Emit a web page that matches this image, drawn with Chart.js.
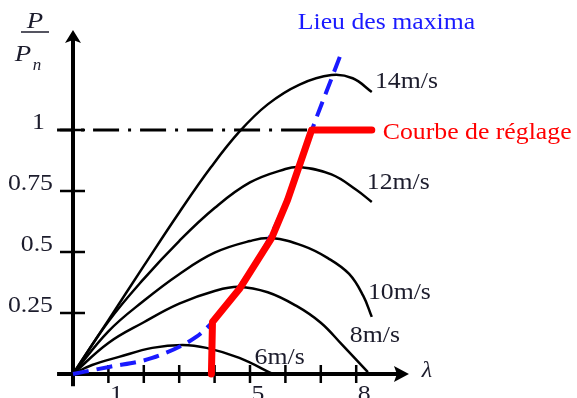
<!DOCTYPE html>
<html>
<head>
<meta charset="utf-8">
<script src="https://cdn.jsdelivr.net/npm/chart.js@4"></script>
<style>
  body { margin: 0; background: #fff; }
  canvas { display: block; }
</style>
</head>
<body>
<canvas id="cp" width="577" height="398"></canvas>
<script>
// power curves P/Pn versus tip speed ratio lambda, one per wind speed
const lam14 = [0, 1, 2, 3, 3.9, 4.7, 5.5, 6.4, 7.3, 7.9, 8.44];
const p14   = [0, 0.221, 0.443, 0.662, 0.848, 0.993, 1.105, 1.186, 1.225, 1.212, 1.156];
const lam12 = [0, 1, 2, 3, 4, 5, 6, 6.4, 7.3, 8, 8.44];
const p12   = [0, 0.215, 0.390, 0.545, 0.680, 0.785, 0.840, 0.848, 0.818, 0.755, 0.705];
const lam10 = [0, 1, 2, 3, 4, 5, 5.6, 6.5, 7.2, 7.8, 8.2, 8.44];
const p10   = [0, 0.175, 0.300, 0.409, 0.497, 0.545, 0.557, 0.525, 0.475, 0.41, 0.32, 0.234];
const lam8  = [0, 1, 2, 3, 4, 4.7, 5.5, 6.3, 7, 7.6, 8.33];
const p8    = [0, 0.127, 0.212, 0.288, 0.340, 0.357, 0.335, 0.28, 0.21, 0.12, 0.008];
const lam6  = [0, 0.54, 1.30, 2.24, 3.09, 3.77, 4.70, 5.64];
const p6    = [0, 0.037, 0.070, 0.107, 0.119, 0.107, 0.066, 0];

// locus of the maxima
const lamMax = [0, 1.02, 2.24, 3.48, 3.94, 4.70, 5.55, 6.40, 6.77, 7.34, 7.59];
const pMax   = [0, 0.029, 0.066, 0.152, 0.213, 0.357, 0.557, 0.848, 1.008, 1.225, 1.320];

// control curve
const lamReg = [3.91, 3.94, 4.70, 5.61, 6.06, 6.74, 8.44];
const pReg   = [0, 0.213, 0.348, 0.557, 0.713, 1.0, 1.0];

// nominal power line
const lamNom = [-0.45, 8.33];
const pNom   = [1, 1];

const speeds = ['6m/s', '8m/s', '10m/s', '12m/s', '14m/s'];
const xTicks = [1, 2, 3, 4, 5, 6, 7, 8];
const xTickLabels = ['1', '5', '8'];
const yTicks = [0.25, 0.5, 0.75, 1];
const yTickLabels = ['0.25', '0.5', '0.75', '1'];

// where the curve names sit (lambda, P)
const speedLabelAt = [[5.13, 0.066], [7.82, 0.156], [8.33, 0.332], [8.30, 0.783], [8.53, 1.197]];

const pts = (xs, ys) => xs.map((v, i) => ({ x: v, y: ys[i] }));

const curve = (xs, ys, name) => ({
  label: name,
  data: pts(xs, ys),
  borderColor: '#000',
  borderWidth: 2.5,
  pointRadius: 0,
  tension: 0.4,
  order: 3
});

const SERIF = '"Liberation Serif", "Times New Roman", serif';

// the serif type is drawn a little wide
function say(ctx, s, x, y) {
  ctx.save();
  ctx.translate(x, y);
  ctx.scale(1.12, 1);
  ctx.fillText(s, 0, 0);
  ctx.restore();
}

const axesPlugin = {
  id: 'axes',
  beforeDatasetsDraw(chart) {
    const { ctx, scales: { x, y } } = chart;
    const x0 = x.getPixelForValue(0), y0 = y.getPixelForValue(0);
    const top = y.getPixelForValue(1.41), right = x.getPixelForValue(9.49);
    ctx.save();
    ctx.strokeStyle = '#000';
    ctx.fillStyle = '#000';
    ctx.lineWidth = 4;
    ctx.beginPath();
    ctx.moveTo(x0, y.getPixelForValue(-0.05));
    ctx.lineTo(x0, top + 8);
    ctx.moveTo(x.getPixelForValue(-0.45), y0);
    ctx.lineTo(right - 8, y0);
    ctx.stroke();
    // arrow heads
    ctx.beginPath();
    ctx.moveTo(x0, top);
    ctx.lineTo(x0 + 8, top + 13);
    ctx.lineTo(x0, top + 10);
    ctx.lineTo(x0 - 8, top + 13);
    ctx.closePath();
    ctx.fill();
    ctx.beginPath();
    ctx.moveTo(right, y0);
    ctx.lineTo(right - 15, y0 - 8);
    ctx.lineTo(right - 12, y0);
    ctx.lineTo(right - 15, y0 + 8);
    ctx.closePath();
    ctx.fill();
    // tick marks
    ctx.lineWidth = 2.5;
    ctx.beginPath();
    yTicks.forEach(v => {
      const py = y.getPixelForValue(v);
      ctx.moveTo(x0 - 13, py);
      ctx.lineTo(x0 + 12, py);
    });
    xTicks.forEach(v => {
      const px = x.getPixelForValue(v);
      ctx.moveTo(px, y0 - 9);
      ctx.lineTo(px, y0 + 9);
    });
    ctx.stroke();
    ctx.restore();
  },
  afterDatasetsDraw(chart) {
    const { ctx, scales: { x, y } } = chart;
    const x0 = x.getPixelForValue(0), y0 = y.getPixelForValue(0);
    ctx.save();
    ctx.textBaseline = 'middle';
    ctx.fillStyle = '#1c1c2c';
    ctx.font = '23px ' + SERIF;

    // y tick labels, the unit one sits a bit further out
    ctx.textAlign = 'right';
    yTicks.forEach((v, i) => {
      const dx = v === 1 ? 28 : 20;
      say(ctx, yTickLabels[i], x0 - dx, y.getPixelForValue(v) - 7);
    });

    // x tick labels
    ctx.textAlign = 'center';
    ctx.textBaseline = 'top';
    xTickLabels.forEach(t => say(ctx, t, x.getPixelForValue(+t) + 8, y0 + 9));

    // wind speed labels
    ctx.textAlign = 'left';
    ctx.textBaseline = 'middle';
    speeds.forEach((s, i) => {
      const [lx, ly] = speedLabelAt[i];
      say(ctx, s, x.getPixelForValue(lx), y.getPixelForValue(ly));
    });

    ctx.fillStyle = '#1a1aff';
    say(ctx, 'Lieu des maxima', x.getPixelForValue(6.35), y.getPixelForValue(1.439));
    ctx.fillStyle = '#ff0000';
    say(ctx, 'Courbe de réglage', x.getPixelForValue(8.75), y.getPixelForValue(0.988));

    // axis titles
    ctx.fillStyle = '#1c1c2c';
    ctx.font = 'italic 24px ' + SERIF;
    ctx.textAlign = 'center';
    say(ctx, 'P', x0 - 38, 22);
    say(ctx, 'P', x0 - 50, 55);
    ctx.font = 'italic 17px ' + SERIF;
    ctx.fillText('n', x0 - 36, 66);
    ctx.lineWidth = 1.5;
    ctx.strokeStyle = '#1c1c2c';
    ctx.beginPath();
    ctx.moveTo(x0 - 52, 32);
    ctx.lineTo(x0 - 24, 32);
    ctx.stroke();
    ctx.font = 'italic 24px ' + SERIF;
    ctx.fillText('λ', x.getPixelForValue(10.0), y0 - 3);
    ctx.restore();
  }
};

new Chart(document.getElementById('cp'), {
  type: 'line',
  data: {
    datasets: [
      {
        label: 'Courbe de réglage',
        data: pts(lamReg, pReg),
        borderColor: '#ff0000',
        borderWidth: 7,
        borderCapStyle: 'round',
        borderJoinStyle: 'round',
        pointRadius: 0,
        tension: 0,
        order: 0
      },
      {
        label: 'Lieu des maxima',
        data: pts(lamMax, pMax),
        borderColor: '#1a1aff',
        borderWidth: 4,
        borderDash: [16, 8],
        pointRadius: 0,
        cubicInterpolationMode: 'monotone',
        order: 1
      },
      {
        label: 'P = Pn',
        data: pts(lamNom, pNom),
        borderColor: '#000',
        borderWidth: 3,
        borderDash: [26, 9, 3, 9],
        borderDashOffset: 11,
        pointRadius: 0,
        order: 2
      },
      curve(lam6, p6, speeds[0]),
      curve(lam8, p8, speeds[1]),
      curve(lam10, p10, speeds[2]),
      curve(lam12, p12, speeds[3]),
      curve(lam14, p14, speeds[4])
    ]
  },
  options: {
    responsive: false,
    animation: false,
    layout: { padding: 0 },
    plugins: { legend: { display: false }, tooltip: { enabled: false } },
    scales: {
      x: { type: 'linear', min: -2.062, max: 14.237, display: false },
      y: { type: 'linear', min: -0.0984, max: 1.5328, display: false }
    }
  },
  plugins: [axesPlugin]
});
</script>
</body>
</html>
